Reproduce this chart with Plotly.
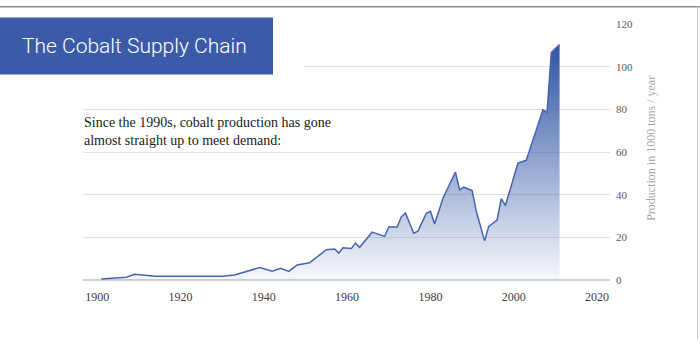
import plotly.graph_objects as go

# Data (world cobalt production, 1000 t/year)
years = [1901, 1907, 1909, 1914, 1920, 1925, 1930, 1933, 1936, 1939,
         1942, 1944, 1946, 1948, 1951, 1955, 1957, 1958, 1959, 1961,
         1962, 1963, 1966, 1969, 1970, 1972, 1973, 1974, 1976, 1977,
         1979, 1980, 1981, 1983, 1986, 1987, 1988, 1990, 1991, 1993,
         1994, 1996, 1997, 1998, 2001, 2003, 2007, 2008, 2009, 2011]
production = [0.5, 1.4, 2.7, 1.8, 1.8, 1.8, 1.8, 2.4, 4.0, 5.9,
              4.2, 5.6, 4.1, 7.1, 8.1, 14.3, 14.6, 12.7, 15.2, 14.8,
              17.4, 15.4, 22.5, 20.5, 24.9, 24.9, 29.7, 31.5, 22.0, 23.0,
              31.3, 32.3, 26.3, 38.4, 50.7, 42.4, 43.6, 42.0, 32.3, 18.4,
              25.2, 28.2, 38.2, 35.0, 54.9, 56.2, 79.9, 78.8, 106.7, 110.5]

x_ticks = [1900, 1920, 1940, 1960, 1980, 2000, 2020]
y_ticks = [0, 20, 40, 60, 80, 100, 120]

title_text = "The Cobalt Supply Chain"
note_text = "Since the 1990s, cobalt production has gone<br>almost straight up to meet demand:"
axis_title = "Production in 1000 tons / year"

W, H = 700, 345

def px(x):
    return x / W

def py(y):
    return (H - y) / H

fig = go.Figure()
fig.add_trace(go.Scatter(
    x=years, y=production, mode="lines",
    line=dict(color="rgb(70,100,178)", width=1.5),
    fill="tozeroy",
    fillgradient=dict(type="vertical",
                      colorscale=[[0, "rgba(47,84,165,0.04)"],
                                  [1, "rgba(47,84,165,1)"]]),
    hoverinfo="skip", showlegend=False,
))

serif = "Liberation Serif, DejaVu Serif, serif"

fig.update_layout(
    width=W, height=H,
    margin=dict(l=0, r=0, t=0, b=0),
    paper_bgcolor="white", plot_bgcolor="white",
    xaxis=dict(domain=[px(83), px(610)], range=[1896.6, 2023.1],
               tickvals=x_ticks, ticktext=[str(t) for t in x_ticks],
               showgrid=False, zeroline=False, showline=False,
               ticks="", tickfont=dict(family=serif, size=12, color="#404040"),
               ticklabelstandoff=8),
    yaxis=dict(domain=[py(284), py(19)], range=[0, 120], side="right",
               tickvals=y_ticks, ticktext=[str(t) for t in y_ticks],
               showgrid=True, gridcolor="#e1e1e1", gridwidth=1,
               zeroline=True, zerolinecolor="#d0d0d0", zerolinewidth=1.5,
               showline=False, ticks="",
               tickfont=dict(family=serif, size=11, color="#595959"),
               ticklabelstandoff=5),
    shapes=[
        dict(type="rect", xref="paper", yref="paper",
             x0=0, x1=px(304), y0=py(82), y1=py(3),
             fillcolor="white", line=dict(width=0), layer="above"),
        dict(type="rect", xref="paper", yref="paper",
             x0=0, x1=px(273), y0=py(71), y1=py(12),
             fillcolor="#3b5ba8", line=dict(width=0), layer="above"),
        dict(type="line", xref="paper", yref="paper",
             x0=0, x1=1, y0=py(0.8), y1=py(0.8),
             line=dict(color="#8a8a8a", width=1.5)),
        dict(type="line", xref="paper", yref="paper",
             x0=px(697.5), x1=px(697.5), y0=0, y1=1,
             line=dict(color="#c8c8c8", width=1)),
    ],
    annotations=[
        dict(text=title_text, xref="paper", yref="paper",
             x=px(20), y=py(41), xanchor="left", yanchor="middle",
             showarrow=False,
             font=dict(family="Roboto", size=21,
                       color="white", weight=300)),
        dict(text=note_text, xref="paper", yref="paper",
             x=px(82), y=py(130), xanchor="left", yanchor="middle",
             align="left", showarrow=False,
             font=dict(family=serif, size=14, color="#1a1a1a")),
        dict(text=axis_title, xref="paper", yref="paper",
             x=px(651), y=py(148), xanchor="center", yanchor="middle",
             textangle=-90, showarrow=False,
             font=dict(family=serif, size=12, color="#a6a6a6")),
    ],
)

fig.write_html("out.html")
